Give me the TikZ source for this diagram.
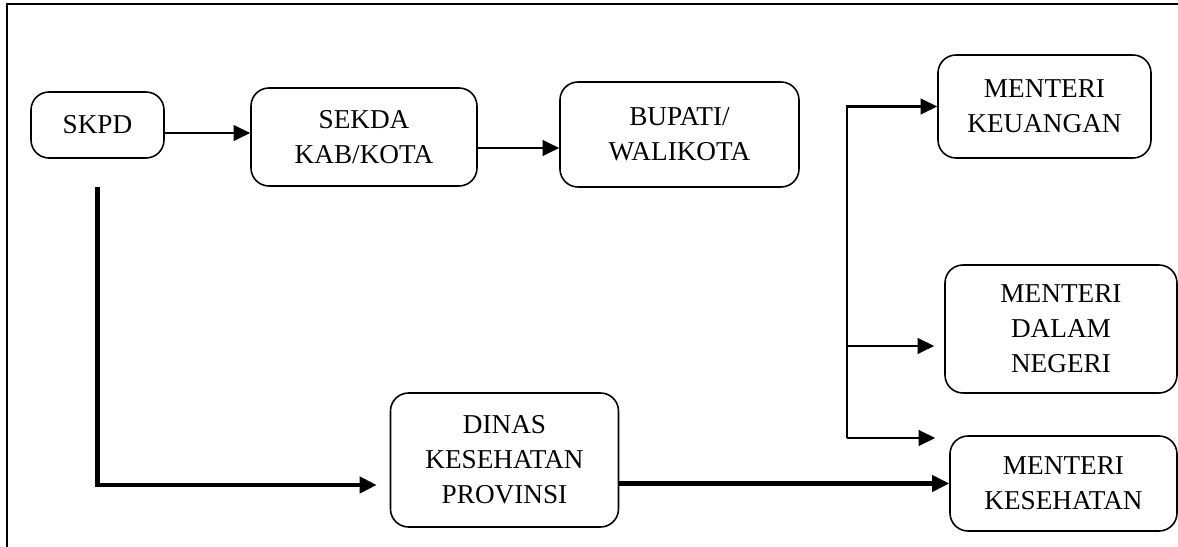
\documentclass[tikz,border=0pt]{standalone}
\usepackage{fontspec}
\setmainfont{Liberation Serif}
\usetikzlibrary{arrows.meta,shapes}
\tikzstyle{box}=[draw,rounded corners=0.36cm,line width=0.9pt,inner sep=0pt,align=center,font=\fontsize{15.5}{19.9}\selectfont]
\tikzstyle{edge} = [draw,line width=1.3pt,-{Triangle[length=0.33cm,width=0.31cm]}]
\tikzstyle{thickedge} = [draw,line width=2.3pt,-{Triangle[length=0.34cm,width=0.32cm]}]

\begin{document}
\begin{tikzpicture}[x=0.02cm, y=-0.02cm]

    \useasboundingbox (0,0) rectangle (1178,547);
    \draw[line width=0.8pt] (7,547) -- (7,4) -- (1178,4);

     \foreach \x/\y/\w/\h/\name/\txt in {97.5/125/133/66/skpd/{SKPD},
        364/137/226/98/sekda/{SEKDA\\KAB/KOTA},
        679.5/134.5/239/105/bupati/{BUPATI/\\WALIKOTA},
        504.5/460/228/134/dinkes/{DINAS\\KESEHATAN\\PROVINSI},
        1044.5/106.5/213/103/keu/{MENTERI\\KEUANGAN},
        1061/329/232/128/dagri/{MENTERI\\DALAM\\NEGERI},
        1063.5/483.5/227/95/mkes/{MENTERI\\KESEHATAN}}
        \node[box, minimum width=\w*0.02cm, minimum height=\h*0.02cm] (\name) at (\x,\y) {\txt};

    \coordinate (bus) at (847,438);

    \path[edge] ([yshift=0.08cm]skpd.east |- sekda.west) -- ([yshift=0.08cm]sekda.west);
    \path[edge] ([yshift=-0.22cm]sekda.east) -- ([yshift=-0.22cm]sekda.east -| bupati.west);

    \path[thickedge, shorten >=0.26cm] ([yshift=-0.56cm]skpd.south) |- ([yshift=-0.5cm]dinkes.west);
    \path[thickedge] (dinkes.east |- mkes.west) -- (mkes.west);

    \path[edge] (bus) |- (keu.west);
    \path[edge, shorten >=0.2cm] ([yshift=-0.34cm]dagri.west -| bus) -- ([yshift=-0.34cm]dagri.west);
    \path[edge, shorten >=0.28cm] (bus) -- (bus -| mkes.west);

\end{tikzpicture}
\end{document}
